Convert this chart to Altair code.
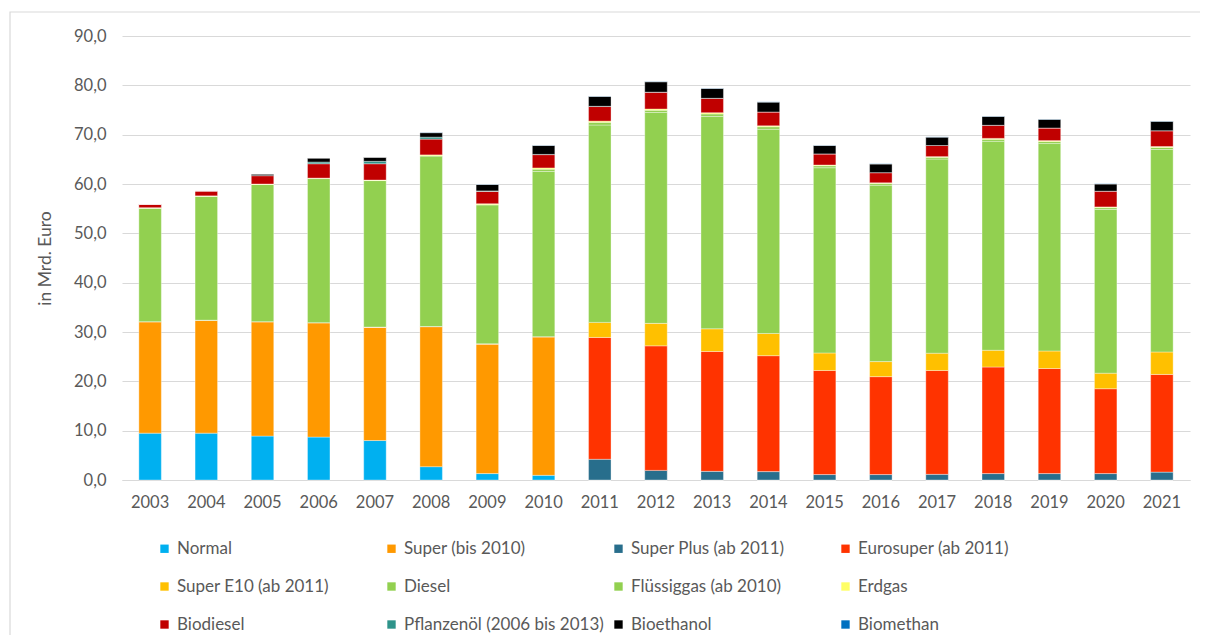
import altair as alt
import pandas as pd

years = [str(y) for y in range(2003, 2022)]

series = [
    "Normal", "Super (bis 2010)", "Super Plus (ab 2011)", "Eurosuper (ab 2011)",
    "Super E10 (ab 2011)", "Diesel", "Flüssiggas (ab 2010)", "Erdgas",
    "Biodiesel", "Pflanzenöl (2006 bis 2013)", "Bioethanol", "Biomethan",
]
colors = [
    "#00B0F0", "#FF9900", "#286E8C", "#FF3300",
    "#FFC000", "#92D050", "#92D050", "#FFFF66",
    "#C00000", "#2E938A", "#000000", "#0070C0",
]

normal      = [9.5, 9.5, 8.9, 8.7, 8.0, 2.7, 1.3, 0.95, 0, 0, 0, 0, 0, 0, 0, 0, 0, 0, 0]
super_      = [22.6, 22.9, 23.2, 23.2, 23.0, 28.4, 26.3, 28.1, 0, 0, 0, 0, 0, 0, 0, 0, 0, 0, 0]
super_plus  = [0, 0, 0, 0, 0, 0, 0, 0, 4.2, 1.95, 1.75, 1.7, 1.1, 1.1, 1.15, 1.3, 1.3, 1.3, 1.6]
eurosuper   = [0, 0, 0, 0, 0, 0, 0, 0, 24.7, 25.25, 24.3, 23.5, 21.1, 19.85, 21.05, 21.6, 21.3, 17.2, 19.8]
super_e10   = [0, 0, 0, 0, 0, 0, 0, 0, 3.05, 4.55, 4.6, 4.5, 3.55, 3.05, 3.5, 3.4, 3.55, 3.15, 4.55]
diesel      = [23.0, 25.1, 27.8, 29.2, 29.7, 34.6, 28.2, 33.5, 40.0, 42.75, 43.05, 41.4, 37.55, 35.75, 39.35, 42.35, 42.05, 33.2, 41.05]
fluessiggas = [0, 0, 0, 0, 0, 0, 0, 0.45, 0.55, 0.45, 0.5, 0.5, 0.4, 0.35, 0.35, 0.4, 0.4, 0.35, 0.4]
erdgas      = [0.1, 0.1, 0.1, 0.1, 0.1, 0.2, 0.2, 0.25, 0.25, 0.25, 0.25, 0.2, 0.15, 0.15, 0.15, 0.2, 0.2, 0.15, 0.2]
biodiesel   = [0.7, 1.0, 1.7, 2.9, 3.3, 3.2, 2.5, 2.7, 2.95, 3.4, 2.9, 2.8, 2.25, 2.05, 2.25, 2.65, 2.55, 3.2, 3.2]
pflanzenoel = [0, 0, 0, 0.35, 0.5, 0.4, 0.1, 0.05, 0.05, 0.02, 0.02, 0, 0, 0, 0, 0, 0, 0, 0]
bioethanol  = [0, 0, 0.3, 0.8, 0.8, 0.9, 1.3, 1.8, 2.0, 2.1, 2.0, 2.0, 1.7, 1.75, 1.7, 1.8, 1.75, 1.45, 1.9]
biomethan   = [0, 0, 0, 0, 0, 0.05, 0.05, 0.05, 0.05, 0.05, 0.05, 0.05, 0.05, 0.05, 0.05, 0.05, 0.05, 0.05, 0.05]

values = [normal, super_, super_plus, eurosuper, super_e10, diesel, fluessiggas,
          erdgas, biodiesel, pflanzenoel, bioethanol, biomethan]

rows = []
for i, (name, vals) in enumerate(zip(series, values)):
    for y, v in zip(years, vals):
        rows.append({"Jahr": y, "Kraftstoff": name, "Wert": v, "idx": i})
df = pd.DataFrame(rows)

FONT = "Lato"
TXT = "#595959"
GRID = "#D9D9D9"

bars = alt.Chart(df).mark_bar(stroke="white", strokeWidth=0.5, strokeOpacity=0.7).encode(
    x=alt.X("Jahr:N", sort=years,
            scale=alt.Scale(paddingInner=0.6, paddingOuter=0.3),
            axis=alt.Axis(title=None, labelAngle=0, labelFontSize=16.5, labelColor=TXT,
                          labelFont=FONT, ticks=False, domainColor=GRID, domainWidth=1.2,
                          labelPadding=14, grid=False)),
    y=alt.Y("sum(Wert):Q", stack="zero",
            scale=alt.Scale(domain=[0, 90], nice=False),
            axis=alt.Axis(title="in Mrd. Euro", values=list(range(0, 91, 10)),
                          labelExpr="replace(format(datum.value, '.1f'), '.', ',')",
                          labelFontSize=16.5, labelColor=TXT, labelFont=FONT,
                          titleFont=FONT, titleFontSize=17.5, titleColor=TXT,
                          titleFontWeight="normal", titlePadding=19,
                          ticks=False, domain=False, labelPadding=16,
                          gridColor=GRID, gridWidth=1.2)),
    color=alt.Color("Kraftstoff:N",
                    scale=alt.Scale(domain=series, range=colors),
                    legend=alt.Legend(title=None, orient="none", legendX=34, legendY=504,
                                      columns=4, direction="horizontal",
                                      symbolType="square", symbolSize=70,
                                      symbolStrokeWidth=0, labelFontSize=17,
                                      labelColor=TXT, labelFont=FONT, labelLimit=400,
                                      gridAlign="all", columnPadding=6, rowPadding=20,
                                      symbolOffset=0, labelOffset=4)),
    order=alt.Order("idx:Q", sort="ascending"),
)

frame = alt.Chart(pd.DataFrame({"a": [0]})).mark_rect(
    fill=None, stroke=GRID, strokeWidth=1.2
).encode(x=alt.value(-112), x2=alt.value(1200), y=alt.value(-24), y2=alt.value(700))

chart = alt.layer(bars, frame).properties(
    width=1068, height=444,
    autosize=alt.AutoSizeParams(type="none"),
    padding={"left": 114, "top": 28, "right": 10, "bottom": 155},
).configure_view(stroke=None)

chart.save("out.html", embed_options={"renderer": "svg", "actions": False})
